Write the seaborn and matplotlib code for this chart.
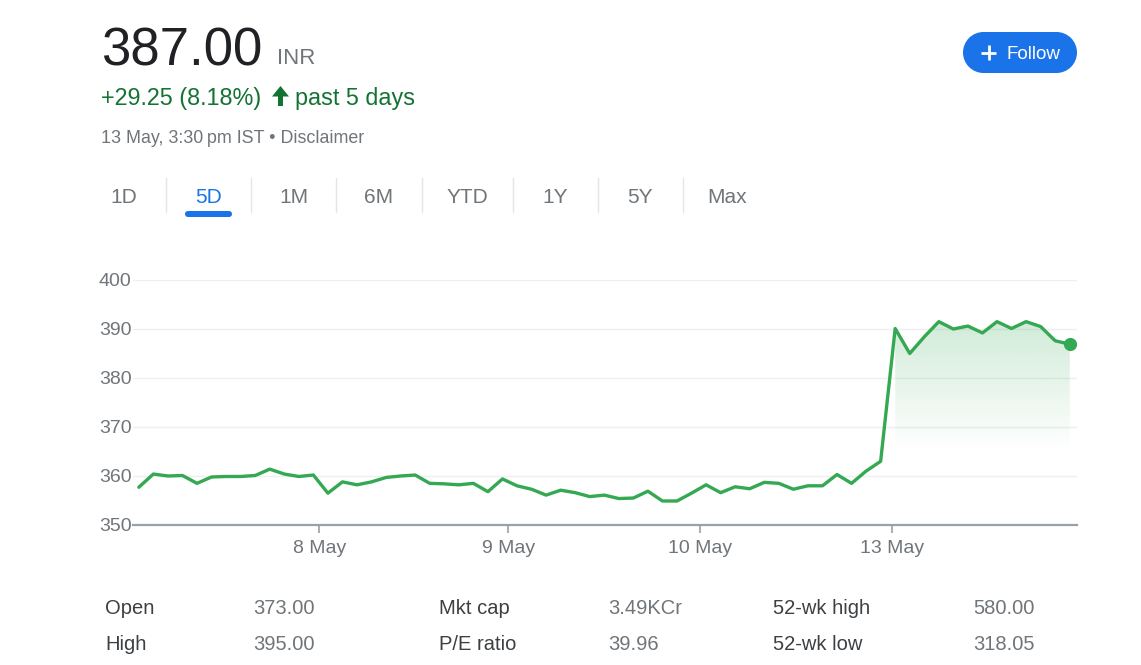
import matplotlib.pyplot as plt
import matplotlib.patches as mpatches
import numpy as np
import pandas as pd
import seaborn as sns


# half-hourly closes over the 5-day window
PRICES = [
    357.7, 360.4, 360.0, 360.1, 358.5, 359.8, 359.9, 359.9, 360.1, 361.4, 360.4, 359.9, 360.2,
    356.5, 358.8, 358.2, 358.8, 359.7, 360.0, 360.2, 358.5, 358.4, 358.2, 358.5, 356.8, 359.4,
    358.0, 357.3, 356.1, 357.1, 356.6, 355.8, 356.1, 355.4, 355.5, 356.9, 354.9, 354.9, 356.5,
    358.2, 356.6, 357.8, 357.4, 358.7, 358.5, 357.3, 358.0, 358.0, 360.3, 358.5, 361.0, 363.0,
    390.1, 385.0, 388.4, 391.5, 390.0, 390.6, 389.2, 391.5, 390.1, 391.5, 390.5, 387.6, 386.9,
]
LAST_DAY_START = 52
DATE_TICKS = [12.4, 25.4, 38.6, 51.8]
DATE_LABELS = ["8 May", "9 May", "10 May", "13 May"]
Y_TICKS = [350, 360, 370, 380, 390, 400]

PRICE_TEXT = "387.00"
CURRENCY = "INR"
CHANGE_TEXT = "+29.25 (8.18%)"
PERIOD_TEXT = "past 5 days"
DATE_LINE = "13 May, 3:30\u2009pm IST \u2022 Disclaimer"
TABS = ["1D", "5D", "1M", "6M", "YTD", "1Y", "5Y", "Max"]
ACTIVE_TAB = "5D"
STAT_LABELS = ["Open", "High", "Mkt cap", "P/E ratio", "52-wk high", "52-wk low"]
STAT_VALUES = ["373.00", "395.00", "3.49KCr", "39.96", "580.00", "318.05"]

GREEN = "#34a853"
DARK_GREEN = "#137333"
BLUE = "#1a73e8"
GREY = "#70757a"
INK = "#202124"

W, H = 1141, 665

sns.set_theme(style="white")
plt.rcParams["font.family"] = ["Liberation Sans", "DejaVu Sans"]

df = pd.DataFrame({"step": np.arange(len(PRICES)), "price": PRICES})

fig = plt.figure(figsize=(W / 100, H / 100), dpi=100)
fig.patch.set_facecolor("white")

# chart area: x 133..1077 px, y 280..525 px
ax = fig.add_axes([133 / W, (H - 525) / H, (1077 - 133) / W, 245 / H])
ax.set_facecolor("none")

sns.lineplot(data=df, x="step", y="price", ax=ax, color=GREEN, linewidth=2.4, zorder=3)
last = df.iloc[-1]
ax.scatter([last["step"]], [last["price"]], s=90, color=GREEN, zorder=4, linewidths=0)

# gradient under the last session
day = df.iloc[LAST_DAY_START:]
poly = ax.fill_between(day["step"], day["price"], 350, color="none", linewidth=0)
yy = np.linspace(350, 393, 256)
alpha = np.clip((yy - 365) / (393 - 365), 0, 1) * 0.24
rgba = np.zeros((256, 1, 4))
rgba[..., :3] = [0x34 / 255, 0xa8 / 255, 0x53 / 255]
rgba[:, 0, 3] = alpha
img = ax.imshow(rgba, extent=[day["step"].iloc[0], day["step"].iloc[-1], 350, 393],
                origin="lower", aspect="auto", zorder=2, interpolation="bilinear")
img.set_clip_path(poly.get_paths()[0], transform=ax.transData)

ax.set_xlim(-0.4, 64.5)
ax.set_ylim(350, 400)
ax.set_yticks(Y_TICKS)
ax.set_xticks(DATE_TICKS)
ax.set_xticklabels(DATE_LABELS)
ax.set_xlabel("")
ax.set_ylabel("")
for yv in Y_TICKS[1:]:
    ax.axhline(yv, color="#eeeff1", linewidth=1.0, zorder=1)
for side in ["left", "right", "top"]:
    ax.spines[side].set_visible(False)
ax.spines["bottom"].set_color("#9aa0a6")
ax.spines["bottom"].set_linewidth(1.6)
ax.tick_params(axis="y", length=0, pad=1, labelsize=14, labelcolor=GREY)
ax.tick_params(axis="x", length=5.5, width=1.2, color="#9aa0a6", pad=5,
               labelsize=14, labelcolor=GREY, direction="out")
ax.tick_params(axis="x", bottom=True)

# overlay in pixel coordinates for the header, tabs and stats
ov = fig.add_axes([0, 0, 1, 1], zorder=5)
ov.set_xlim(0, W)
ov.set_ylim(H, 0)
ov.axis("off")

ov.text(101, 65, PRICE_TEXT, fontsize=38, color=INK, va="baseline")
ov.text(277, 64, CURRENCY, fontsize=16, color=GREY, va="baseline")
ov.text(101, 105, CHANGE_TEXT, fontsize=16.8, color=DARK_GREEN, va="baseline")
arrow = [(280.5, 86), (272, 96.5), (278, 96.5), (278, 106), (283, 106), (283, 96.5), (289, 96.5)]
ov.add_patch(mpatches.Polygon(arrow, closed=True, color=DARK_GREEN, lw=0))
ov.text(295, 105, PERIOD_TEXT, fontsize=16.8, color=DARK_GREEN, va="baseline")
ov.text(101, 143, DATE_LINE, fontsize=12.9, color=GREY, va="baseline")

# follow button (pill = rectangle + two end caps)
ov.add_patch(mpatches.Rectangle((983.5, 32), 73, 41, color=BLUE, lw=0))
ov.add_patch(mpatches.Circle((983.5, 52.5), 20.5, color=BLUE, lw=0))
ov.add_patch(mpatches.Circle((1056.5, 52.5), 20.5, color=BLUE, lw=0))
ov.plot([981, 996], [52.5, 52.5], color="white", lw=2.0, solid_capstyle="butt")
ov.plot([988.5, 988.5], [45, 60], color="white", lw=2.0, solid_capstyle="butt")
ov.text(1007, 59, "Follow", fontsize=13.5, color="white", va="baseline")

# range tabs
tab_x = [124, 209, 294, 379, 467, 555, 640, 727]
for tx, tab in zip(tab_x, TABS):
    ov.text(tx, 203, tab, fontsize=15, ha="center", va="baseline",
            color=BLUE if tab == ACTIVE_TAB else GREY)
for sx in [166, 251, 336, 422, 513, 598, 683]:
    ov.plot([sx, sx], [178, 212], color="#e3e5e8", lw=1.0)
ov.add_patch(mpatches.FancyBboxPatch((185, 211), 47, 6,
                                     boxstyle="round,pad=0,rounding_size=3",
                                     color=BLUE, lw=0))

# key stats
label_x = [105, 439, 773]
value_x = [253, 608, 973]
row_y = [614, 650]
for i in range(len(STAT_LABELS)):
    col, row = divmod(i, 2)
    ov.text(label_x[col], row_y[row], STAT_LABELS[i], fontsize=14.5, color="#3c4043", va="baseline")
    ov.text(value_x[col], row_y[row], STAT_VALUES[i], fontsize=14.5, color=GREY, va="baseline")

fig.savefig("out.png", dpi=100, facecolor="white")
